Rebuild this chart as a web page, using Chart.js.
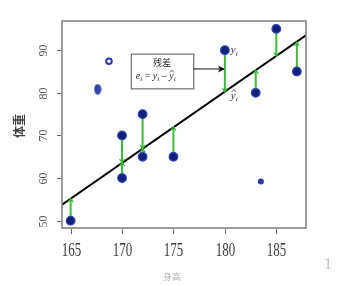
<!DOCTYPE html>
<html>
<head>
<meta charset="utf-8">
<script src="https://cdn.jsdelivr.net/npm/chart.js@4.4.1/dist/chart.umd.min.js"></script>
<style>
  html, body { margin: 0; padding: 0; background: #fff; }
  canvas { display: block; }
</style>
</head>
<body>
<canvas id="chart" width="343" height="286"></canvas>
<script>
// observed data (height, weight) and fitted values on the regression line
const heights = [165, 170, 170, 172, 172, 175, 180, 183, 185, 187];
const weights = [50, 70, 60, 75, 65, 65, 90, 80, 95, 85];
const fitted = [55.2, 63.6, 63.6, 66.9, 66.9, 72, 80.3, 85.3, 88.6, 91.9];

// regression line end points (at the plot edges)
const lineX = [164.16, 187.89];
const lineY = [53.75, 93.5];

// stray marks
const ovalPoint = [167.63, 80.85];
const ringPoint = [168.73, 87.4];
const dotPoint = [183.5, 59.2];

const xTicks = [165, 170, 175, 180, 185];
const yTicks = [50, 60, 70, 80, 90];

// annotation box (data units) and its arrow
const noteBoxX = [170.85, 176.93];
const noteBoxY = [81.05, 89.2];
const noteArrowX = [176.93, 179.9];
const noteArrowY = 85.6;

// an oval marker for the smeared point
const oval = document.createElement('canvas');
oval.width = 8;
oval.height = 11;
const octx = oval.getContext('2d');
octx.fillStyle = '#3444ad';
octx.beginPath();
octx.ellipse(4, 5.5, 3.6, 5.2, 0, 0, Math.PI * 2);
octx.fill();

// residual segments, broken by gaps
const residData = [];
heights.forEach((h, i) => {
    residData.push({ x: h, y: weights[i] });
    residData.push({ x: h, y: fitted[i] });
    residData.push({ x: h, y: null });
});

const GREEN = '#3dbb3d';

// italic letter with subscript, optional hat on top
function subText(ctx, base, sub, x, y, size, hat) {
    ctx.font = 'italic ' + size + 'px "Liberation Serif"';
    ctx.textAlign = 'left';
    ctx.textBaseline = 'alphabetic';
    ctx.fillText(base, x, y);
    const w = ctx.measureText(base).width;
    if (hat) {
        const hx = x + w / 2 + 0.5;
        const hy = y - size * 0.62;
        ctx.save();
        ctx.strokeStyle = ctx.fillStyle;
        ctx.lineWidth = 0.8;
        ctx.beginPath();
        ctx.moveTo(hx - 2, hy);
        ctx.lineTo(hx, hy - 2);
        ctx.lineTo(hx + 2, hy);
        ctx.stroke();
        ctx.restore();
    }
    ctx.font = 'italic ' + Math.round(size * 0.65) + 'px "Liberation Serif"';
    ctx.fillText(sub, x + w, y + size * 0.22);
    return w + ctx.measureText(sub).width;
}

const decor = {
    id: 'decor',
    beforeDraw(chart) {
        const ctx = chart.ctx;
        ctx.save();
        ctx.fillStyle = '#fff';
        ctx.fillRect(0, 0, chart.width, chart.height);
        ctx.restore();
    },
    afterDatasetsDraw(chart) {
        const ctx = chart.ctx;
        const xs = chart.scales.x;
        const ys = chart.scales.y;
        ctx.save();

        // small arrow heads where residuals meet the line
        ctx.strokeStyle = GREEN;
        ctx.lineWidth = 1.3;
        heights.forEach((h, i) => {
            const px = xs.getPixelForValue(h);
            const py = ys.getPixelForValue(fitted[i]);
            const dir = weights[i] > fitted[i] ? 1 : -1;
            ctx.beginPath();
            ctx.moveTo(px - 2.5, py - dir * 3.5);
            ctx.lineTo(px, py);
            ctx.lineTo(px + 2.5, py - dir * 3.5);
            ctx.stroke();
        });

        // annotation box
        const bx0 = xs.getPixelForValue(noteBoxX[0]);
        const bx1 = xs.getPixelForValue(noteBoxX[1]);
        const by0 = ys.getPixelForValue(noteBoxY[1]);
        const by1 = ys.getPixelForValue(noteBoxY[0]);
        ctx.fillStyle = '#fff';
        ctx.fillRect(bx0, by0, bx1 - bx0, by1 - by0);
        ctx.strokeStyle = '#555';
        ctx.lineWidth = 1;
        ctx.strokeRect(bx0 + 0.5, by0 + 0.5, bx1 - bx0, by1 - by0);

        const cx = (bx0 + bx1) / 2;
        ctx.fillStyle = '#222';
        ctx.font = '9px "Noto Sans CJK SC"';
        ctx.textAlign = 'center';
        ctx.textBaseline = 'middle';
        ctx.fillText('残差', cx, by0 + 9);

        // e_i = y_i - ŷ_i
        let tx = bx0 + 5;
        const ty = by0 + 25;
        ctx.fillStyle = '#222';
        tx += subText(ctx, 'e', 'i', tx, ty, 10);
        ctx.font = '10px "Liberation Serif"';
        ctx.fillText(' = ', tx, ty);
        tx += ctx.measureText(' = ').width;
        tx += subText(ctx, 'y', 'i', tx, ty, 10);
        ctx.font = '10px "Liberation Serif"';
        ctx.fillText(' \u2013 ', tx, ty);
        tx += ctx.measureText(' \u2013 ').width;
        subText(ctx, 'y', 'i', tx, ty, 10, true);

        // arrow to the residual
        const ax0 = xs.getPixelForValue(noteArrowX[0]);
        const ax1 = xs.getPixelForValue(noteArrowX[1]);
        const ay = ys.getPixelForValue(noteArrowY);
        ctx.strokeStyle = '#111';
        ctx.lineWidth = 1;
        ctx.beginPath();
        ctx.moveTo(ax0, ay);
        ctx.lineTo(ax1, ay);
        ctx.stroke();
        ctx.fillStyle = '#111';
        ctx.beginPath();
        ctx.moveTo(ax1 + 1, ay);
        ctx.lineTo(ax1 - 6, ay - 3.5);
        ctx.lineTo(ax1 - 4, ay);
        ctx.lineTo(ax1 - 6, ay + 3.5);
        ctx.closePath();
        ctx.fill();

        // y_i and ŷ_i labels next to the highlighted residual
        const lx = xs.getPixelForValue(180) + 6;
        ctx.fillStyle = '#333';
        subText(ctx, 'y', 'i', lx, ys.getPixelForValue(90) + 3, 11);
        subText(ctx, 'y', 'i', lx, ys.getPixelForValue(80.3) + 7, 11, true);

        ctx.restore();
    },
    afterDraw(chart) {
        const ctx = chart.ctx;
        const a = chart.chartArea;
        const xs = chart.scales.x;
        const ys = chart.scales.y;
        ctx.save();

        // frame
        ctx.strokeStyle = '#7d7d7d';
        ctx.lineWidth = 1.5;
        ctx.strokeRect(a.left, a.top, a.right - a.left, a.bottom - a.top);

        // tick marks and labels
        ctx.lineWidth = 1;
        ctx.strokeStyle = '#666';
        ctx.fillStyle = '#3a3a3a';
        xTicks.forEach(v => {
            const px = Math.round(xs.getPixelForValue(v)) + 0.5;
            ctx.beginPath();
            ctx.moveTo(px, a.bottom + 1);
            ctx.lineTo(px, a.bottom + 6);
            ctx.stroke();
            ctx.save();
            ctx.translate(px, 251);
            ctx.scale(1, 1.5);
            ctx.font = '13px "Liberation Serif"';
            ctx.textAlign = 'center';
            ctx.textBaseline = 'middle';
            ctx.fillText(String(v), 0, 0);
            ctx.restore();
        });
        yTicks.forEach(v => {
            const py = Math.round(ys.getPixelForValue(v)) + 0.5;
            ctx.beginPath();
            ctx.moveTo(a.left - 1, py);
            ctx.lineTo(a.left - 5, py);
            ctx.stroke();
            ctx.save();
            ctx.translate(44, py);
            ctx.rotate(-Math.PI / 2);
            ctx.font = '12px "Liberation Serif"';
            ctx.textAlign = 'center';
            ctx.textBaseline = 'middle';
            ctx.fillStyle = '#555';
            ctx.fillText(String(v), 0, 0);
            ctx.restore();
        });

        // axis titles
        ctx.save();
        ctx.translate(19.5, 126);
        ctx.rotate(-Math.PI / 2);
        ctx.font = 'bold 12px "Noto Sans CJK SC"';
        ctx.textAlign = 'center';
        ctx.textBaseline = 'middle';
        ctx.fillStyle = '#444';
        ctx.fillText('体重', 0, 0);
        ctx.restore();

        ctx.font = '9px "Noto Sans CJK SC"';
        ctx.textAlign = 'center';
        ctx.textBaseline = 'middle';
        ctx.fillStyle = '#b5b5b5';
        ctx.fillText('身高', 172, 277);

        ctx.font = '17px "Liberation Serif"';
        ctx.fillStyle = '#c4c4c4';
        ctx.fillText('1', 328, 265);

        ctx.restore();
    }
};

new Chart(document.getElementById('chart'), {
    type: 'scatter',
    data: {
        datasets: [
            {
                label: 'observed',
                data: heights.map((h, i) => ({ x: h, y: weights[i] })),
                backgroundColor: '#13207a',
                borderColor: '#2f40b5',
                borderWidth: 1.2,
                pointRadius: 4.3,
                order: 0
            },
            {
                label: 'oval',
                data: [{ x: ovalPoint[0], y: ovalPoint[1] }],
                pointStyle: oval,
                order: 0
            },
            {
                label: 'ring',
                data: [{ x: ringPoint[0], y: ringPoint[1] }],
                backgroundColor: '#fff',
                borderColor: '#2a3aa8',
                borderWidth: 2,
                pointRadius: 2.8,
                order: 0
            },
            {
                label: 'dot',
                data: [{ x: dotPoint[0], y: dotPoint[1] }],
                backgroundColor: '#2b3aa6',
                borderColor: '#2b3aa6',
                borderWidth: 0,
                pointRadius: 3,
                order: 0
            },
            {
                type: 'line',
                label: 'fit',
                data: lineX.map((x, i) => ({ x: x, y: lineY[i] })),
                borderColor: '#000',
                borderWidth: 2,
                pointRadius: 0,
                order: 1
            },
            {
                type: 'line',
                label: 'residuals',
                data: residData,
                borderColor: GREEN,
                borderWidth: 2,
                pointRadius: 0,
                spanGaps: false,
                order: 2
            }
        ]
    },
    options: {
        responsive: false,
        animation: false,
        devicePixelRatio: 1,
        layout: { padding: { left: 62, right: 37, top: 21, bottom: 58 } },
        plugins: {
            legend: { display: false },
            tooltip: { enabled: false }
        },
        scales: {
            x: { type: 'linear', display: false, min: 164.16, max: 187.89 },
            y: { type: 'linear', display: false, min: 48.29, max: 96.85 }
        }
    },
    plugins: [decor]
});
</script>
</body>
</html>
